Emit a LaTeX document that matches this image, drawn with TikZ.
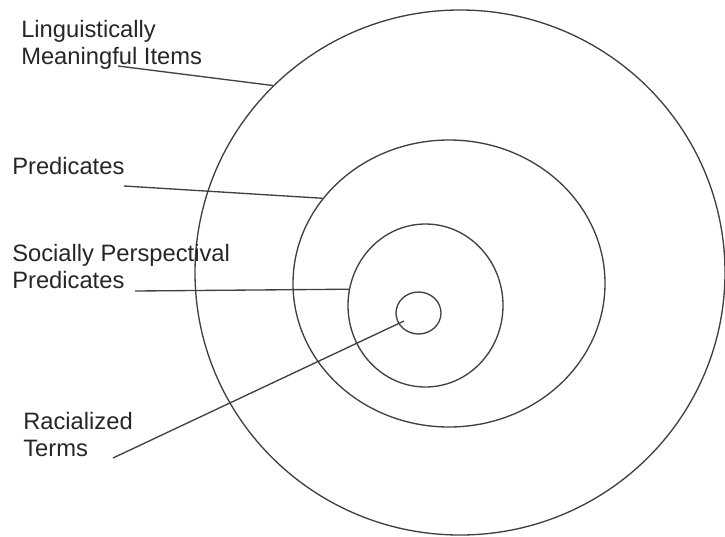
\documentclass[tikz,border=0pt]{standalone}
\usepackage{fontspec}
\setmainfont{Liberation Sans}
\usepackage{xcolor}
\definecolor{cLine}{HTML}{404040}
\definecolor{cText}{HTML}{262626}
\usepackage{tikz}
\usetikzlibrary{positioning,shapes.geometric,calc}
\tikzset{
  ring/.style={draw=cLine,line width=1pt,ellipse,inner sep=0pt},
  label-text/.style={text=cText,align=left,inner sep=0pt,anchor=base west,
    font=\fontsize{17.8}{20.25}\selectfont},
  leader/.style={draw=cLine,line width=1pt},
}
\begin{document}
\begin{tikzpicture}[x=0.75pt,y=-0.75pt]
  \useasboundingbox (0,0) rectangle (725,536);
  % nested rings
  \node[ring,minimum width=530pt*0.75,minimum height=525pt*0.75] (outer) at (460,272.5) {};
  \node[ring,minimum width=312pt*0.75,minimum height=287pt*0.75] (mid)   at (449,283.5) {};
  \node[ring,minimum width=155pt*0.75,minimum height=163pt*0.75] (inner) at (425.5,305.5) {};
  \node[ring,minimum width=45pt*0.75,minimum height=42pt*0.75]   (core)  at (418.5,313) {};
  % labels (base = baseline of the last line)
  \node[label-text] (lItems) at (21,64)  {Linguistically\\Meaningful Items};
  \node[label-text] (lPred)  at (12,174) {Predicates};
  \node[label-text] (lSoc)   at (12,288) {Socially Perspectival\\Predicates};
  \node[label-text] (lRac)   at (23,456) {Racialized\\Terms};
  % leader lines
  \coordinate (sItems) at (118,66);
  \coordinate (sPred)  at (124,186);
  \coordinate (sSoc)   at (135,291);
  \coordinate (sRac)   at (113,458);
  \coordinate (tRac)   at ($(core.center)+(-14.5,8)$);
  \draw[leader] (sItems) -- (outer.135.5);
  \draw[leader] (sPred)  -- (mid.146.7);
  \draw[leader] (sSoc)   -- (inner.168.8);
  \draw[leader] (sRac)   -- (tRac);
\end{tikzpicture}
\end{document}
